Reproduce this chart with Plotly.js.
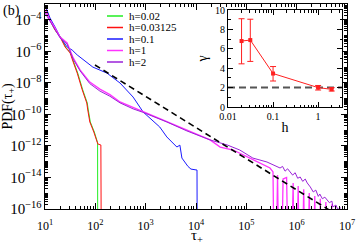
<!DOCTYPE html>
<html>
<head>
<meta charset="utf-8">
<script src="https://cdn.plot.ly/plotly-3.0.1.min.js"></script>
<style>html,body{margin:0;padding:0;background:#fff}#chart{width:357px;height:246px}</style>
</head>
<body>
<div id="chart"></div>
<script>
// ---- data (log10 of tau and of PDF) ----
var Z = -25; // empty bin (zero probability), drawn off the bottom of the log axis

var h002_logTau = [1.00, 1.10, 1.20, 1.31, 1.41, 1.51, 1.57, 1.65, 1.75, 1.84, 1.86, 1.90, 1.98, 2.03, 2.045, 2.05];
var h002_logPdf = [-3.06, -4.02, -4.65, -5.09, -5.73, -6.11, -6.68, -7.38, -8.45, -9.28, -9.72, -10.48, -11.12, -11.62, -11.80, Z];

var h003_logTau = [1.00, 1.10, 1.20, 1.30, 1.40, 1.50, 1.56, 1.64, 1.74, 1.83, 1.85, 1.89, 1.97, 2.03, 2.05, 2.11, 2.125];
var h003_logPdf = [-3.10, -4.02, -4.65, -5.09, -5.73, -6.11, -6.68, -7.38, -8.45, -9.28, -9.72, -10.48, -11.12, -11.75, -11.88, -11.94, Z];

var h01_logTau = [1.00, 1.10, 1.20, 1.30, 1.44, 1.54, 1.64, 1.76, 1.95, 2.23, 2.49, 2.75, 2.95, 3.28, 3.42, 3.52, 3.62, 3.68, 3.72, 3.84, 3.90, 4.02, 4.03];
var h01_logPdf = [-3.06, -3.89, -4.46, -5.09, -5.73, -5.92, -6.23, -6.55, -7.00, -7.38, -8.01, -8.90, -9.85, -10.80, -11.43, -11.75, -12.07, -11.95, -12.77, -13.30, -13.47, -13.53, Z];

var h1_logTau = [1.00, 1.10, 1.20, 1.30, 1.44, 1.56, 1.70, 1.89, 2.09, 2.29, 2.49, 2.93, 3.42, 3.82, 4.28, 4.48, 4.74, 5.07, 5.33, 5.47,
  5.53, 5.57, 5.62, 5.67, 5.73, 5.80, 5.86, 5.93, 5.97, 6.03, 6.08, 6.14, 6.19, 6.25, 6.30, 6.36, 6.41, 6.47, 6.52, 6.58, 6.63, 6.70];
var h1_logPdf = [-3.38, -4.02, -4.52, -5.09, -5.47, -6.42, -7.19, -7.95, -8.40, -8.75, -9.21, -9.79, -10.48, -10.99, -11.62, -12.07, -12.26, -12.77, -13.21, -13.40,
  -13.65, Z, -13.84, Z, -14.10, -14.00, Z, -14.35, Z, -14.55, Z, -14.75, Z, -14.98, Z, -15.17, Z, -15.35, Z, -15.55, Z, -15.70];

var h2_logTau = [1.00, 1.10, 1.20, 1.30, 1.44, 1.56, 1.70, 1.89, 2.09, 2.29, 2.49, 2.75, 2.93, 3.42, 3.82, 4.28, 4.62, 4.87, 5.13, 5.41, 5.67,
  5.72, 5.77, 5.82, 5.87, 5.92, 5.97, 6.02, 6.07, 6.12, 6.17, 6.21, 6.27, 6.33, 6.38, 6.43, 6.46, 6.51, 6.56, 6.60, 6.65, 6.70, 6.72, 6.78, 6.82, 6.86, 6.88];
var h2_logPdf = [-3.57, -4.10, -4.62, -5.15, -5.55, -6.50, -7.25, -8.05, -8.52, -8.85, -9.27, -9.65, -9.85, -10.48, -11.05, -11.62, -11.94, -12.26, -12.77, -13.02, -13.40,
  -13.30, -13.60, -13.45, -13.65, -13.85, -13.70, -14.05, -13.97, -14.25, -14.10, -14.35, -14.60, -14.92, -14.80, -15.20, -15.05, -15.35, -15.25, -15.43, -15.60, -15.50, -15.87, -15.75, -16.06, -15.90, Z];

var guide_logTau = [1.993, 6.75];
var guide_logPdf = [-6.87, -16.27];

// axis tick labels
var xTickVals = [1e1, 1e2, 1e3, 1e4, 1e5, 1e6, 1e7];
var xTickText = ['10<sup>1</sup>', '10<sup>2</sup>', '10<sup>3</sup>', '10<sup>4</sup>', '10<sup>5</sup>', '10<sup>6</sup>', '10<sup>7</sup>'];

// inset: exponent gamma versus h
var insetH = [0.02, 0.03125, 0.1, 1, 2];
var insetGamma = [6.8, 6.9, 3.45, 2.0, 1.82];
var insetErrPlus = [2.3, 2.15, 0.72, 0.22, 0.17];
var insetErrMinus = [2.35, 2.2, 0.77, 0.25, 0.17];
var insetRefH = [0.01, 3.4];
var insetRefGamma = [2, 2];

var seriesNames = ['h=0.02', 'h=0.03125', 'h=0.1', 'h=1', 'h=2'];
var seriesColors = ['#22ee22', '#ff1111', '#1a1aff', '#ff33ff', '#9a22d8'];
var seriesWidths = [1, 1, 1, 1.3, 1];

// ---- build ----
function pw(a) { return a.map(function (v) { return Math.pow(10, v); }); }
var logX = [h002_logTau, h003_logTau, h01_logTau, h1_logTau, h2_logTau];
var logY = [h002_logPdf, h003_logPdf, h01_logPdf, h1_logPdf, h2_logPdf];

var FONT = 'Liberation Serif, Times New Roman, serif';
var traces = [];
for (var i = 0; i < logX.length; i++) {
  traces.push({
    x: pw(logX[i]), y: pw(logY[i]), type: 'scatter', mode: 'lines', name: seriesNames[i],
    line: {color: seriesColors[i], width: seriesWidths[i]}, xaxis: 'x', yaxis: 'y', showlegend: false, hoverinfo: 'skip'
  });
}
traces.push({
  x: pw(guide_logTau), y: pw(guide_logPdf), type: 'scatter', mode: 'lines',
  line: {color: '#000', width: 1.6, dash: '6px,4px'}, showlegend: false, hoverinfo: 'skip'
});
traces.push({
  x: insetRefH, y: insetRefGamma, type: 'scatter', mode: 'lines', xaxis: 'x2', yaxis: 'y2',
  line: {color: '#555', width: 2, dash: '7px,4px'}, showlegend: false, hoverinfo: 'skip'
});
traces.push({
  x: insetH, y: insetGamma, type: 'scatter', mode: 'lines+markers', xaxis: 'x2', yaxis: 'y2',
  line: {color: '#ff2020', width: 1}, marker: {color: '#ff2020', size: 4, symbol: 'square'},
  error_y: {type: 'data', symmetric: false, array: insetErrPlus, arrayminus: insetErrMinus, color: '#ff2020', thickness: 1, width: 3},
  showlegend: false, hoverinfo: 'skip'
});

// legend drawn as text + short sample lines
var L = 45, R = 347, T = 4, B = 209;
function px(x) { return (x - L) / (R - L); }
function py(y) { return (B - y) / (B - T); }
var rows = [16, 27.5, 39, 50.5, 62];
var annotations = [], shapes = [];
for (var k = 0; k < seriesNames.length; k++) {
  annotations.push({xref: 'paper', yref: 'paper', x: px(127), y: py(rows[k]), xanchor: 'left', yanchor: 'middle',
    text: seriesNames[k], showarrow: false, font: {family: FONT, size: 11, color: '#000'}});
  shapes.push({type: 'line', xref: 'paper', yref: 'paper', x0: px(107), x1: px(123), y0: py(rows[k]), y1: py(rows[k]),
    line: {color: seriesColors[k], width: 1.5}});
}
annotations.push({xref: 'paper', yref: 'paper', x: px(11), y: py(11), xanchor: 'center', yanchor: 'middle',
  text: '(b)', showarrow: false, font: {family: FONT, size: 14, color: '#000'}});
// x-axis title placed below the tick labels
annotations.push({xref: 'paper', yref: 'paper', x: px(197), y: py(236), xanchor: 'center', yanchor: 'middle',
  text: 'τ<sub>+</sub>', showarrow: false, font: {family: FONT, size: 15, color: '#000'}});

var axBase = {showline: true, linecolor: '#000', linewidth: 1, mirror: 'allticks', ticks: 'inside',
  tickcolor: '#000', showgrid: false, zeroline: false, tickfont: {family: FONT, size: 12, color: '#000'}};

var layout = {
  width: 357, height: 246, margin: {l: L, r: 357 - R, t: T, b: 246 - B},
  paper_bgcolor: '#fff', plot_bgcolor: '#fff', font: {family: FONT, color: '#000'},
  showlegend: false,
  xaxis: Object.assign({}, axBase, {type: 'log', range: [1, 7], tickmode: 'array', tickvals: xTickVals, ticktext: xTickText, ticklen: 6,
    ticklabelstandoff: 6,
    minor: {ticks: 'inside', ticklen: 3, dtick: 'D1', tickcolor: '#000'}}),
  yaxis: Object.assign({}, axBase, {type: 'log', range: [-16, -3], dtick: 2, tick0: 0, exponentformat: 'power', ticklen: 6,
    minor: {ticks: 'inside', ticklen: 3, dtick: 'D1', tickcolor: '#000'},
    title: {text: 'PDF(τ<sub>+</sub>)', font: {family: FONT, size: 14}, standoff: 2}}),
  xaxis2: Object.assign({}, axBase, {anchor: 'y2', domain: [px(228), px(342)], type: 'log', range: [-2, 0.53], dtick: 1, ticklen: 5,
    tickfont: {family: FONT, size: 10, color: '#000'},
    minor: {ticks: 'inside', ticklen: 2.5, dtick: 'D1', tickcolor: '#000'},
    title: {text: 'h', font: {family: FONT, size: 14}, standoff: 1}}),
  yaxis2: Object.assign({}, axBase, {anchor: 'x2', domain: [py(107), py(10)], range: [0, 10], dtick: 2, ticklen: 5,
    tickfont: {family: FONT, size: 10, color: '#000'},
    minor: {ticks: 'inside', ticklen: 2.5, dtick: 1, tickcolor: '#000'},
    title: {text: 'γ', font: {family: FONT, size: 14}, standoff: 4}}),
  annotations: annotations, shapes: shapes
};

Plotly.newPlot('chart', traces, layout, {staticPlot: true, displayModeBar: false});
</script>
</body>
</html>
